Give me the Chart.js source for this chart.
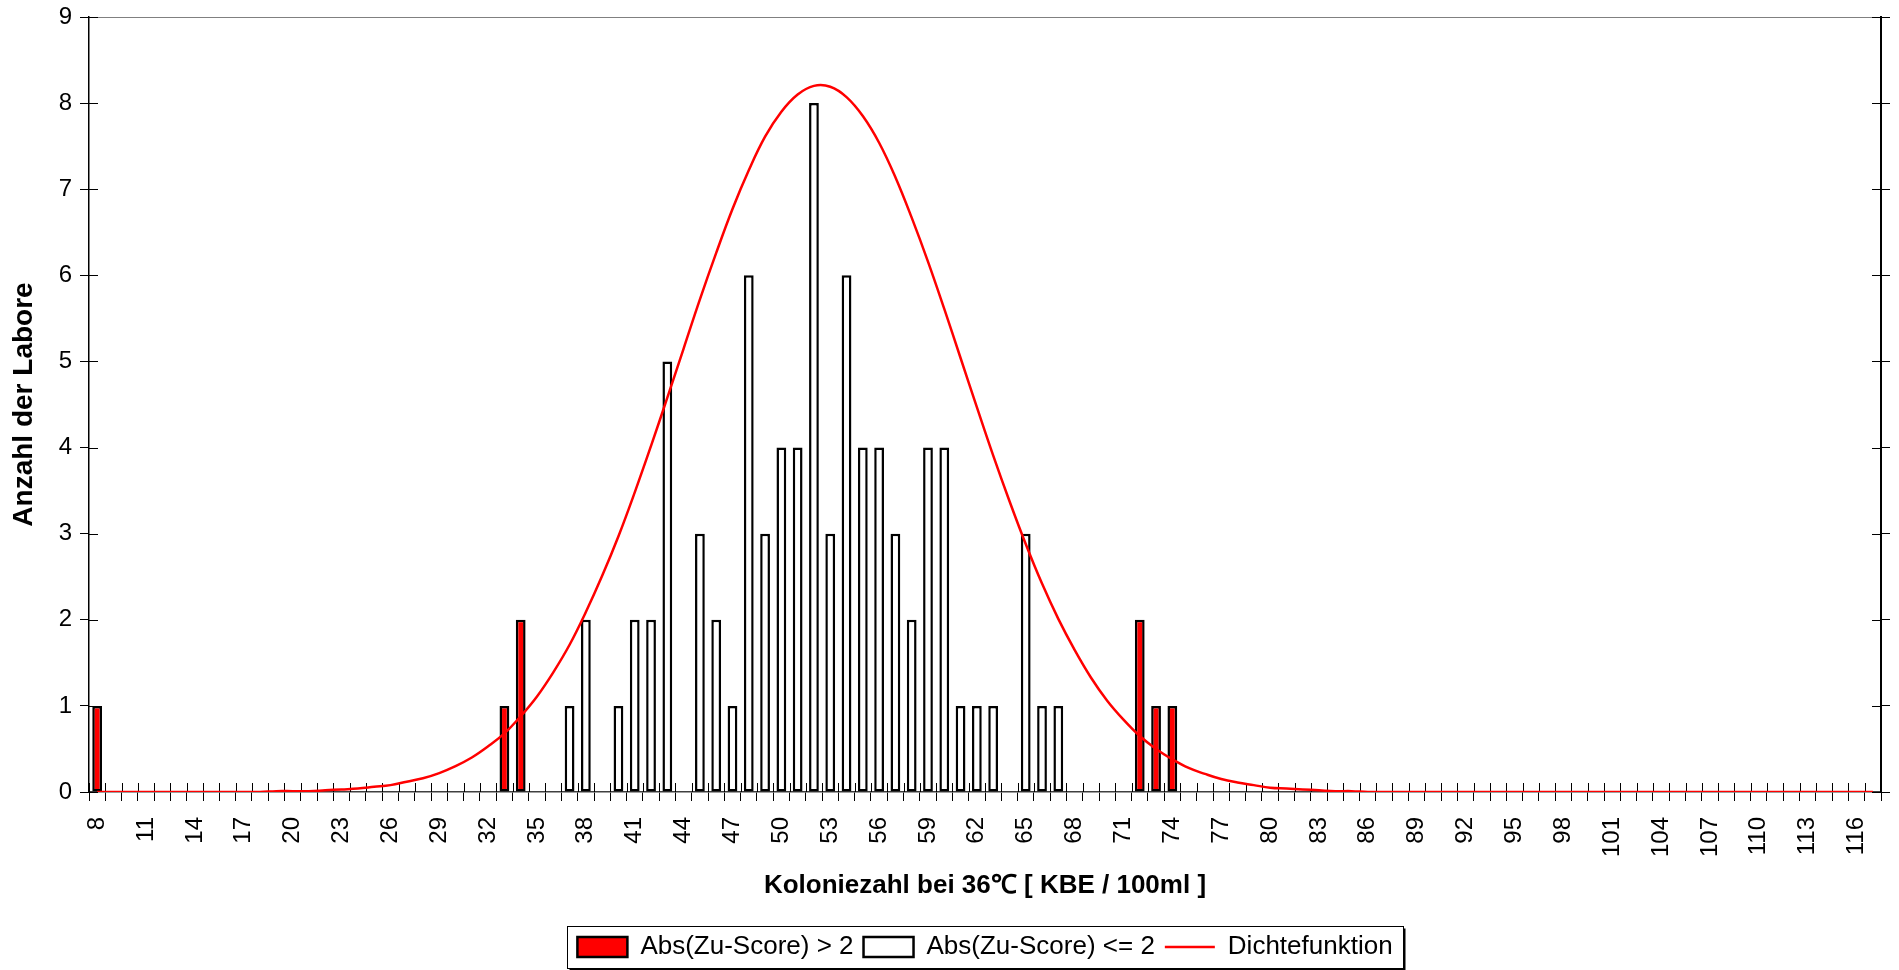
<!DOCTYPE html>
<html>
<head>
<meta charset="utf-8">
<script src="https://cdn.jsdelivr.net/npm/chart.js@4.4.1/dist/chart.umd.min.js"></script>
<style>
  html, body { margin: 0; padding: 0; background: #fff; }
  #wrap { width: 1899px; height: 970px; }
</style>
</head>
<body>
<div id="wrap"><canvas id="chart" width="1899" height="970"></canvas></div>
<script>
// x categories: colony counts 8 .. 117
const categories = [
  8, 9, 10, 11, 12, 13, 14, 15, 16, 17,
  18, 19, 20, 21, 22, 23, 24, 25, 26, 27,
  28, 29, 30, 31, 32, 33, 34, 35, 36, 37,
  38, 39, 40, 41, 42, 43, 44, 45, 46, 47,
  48, 49, 50, 51, 52, 53, 54, 55, 56, 57,
  58, 59, 60, 61, 62, 63, 64, 65, 66, 67,
  68, 69, 70, 71, 72, 73, 74, 75, 76, 77,
  78, 79, 80, 81, 82, 83, 84, 85, 86, 87,
  88, 89, 90, 91, 92, 93, 94, 95, 96, 97,
  98, 99, 100, 101, 102, 103, 104, 105, 106, 107,
  108, 109, 110, 111, 112, 113, 114, 115, 116, 117,
];

// labs with |z| > 2
const outlierValues = [8, 33, 34, 72, 73, 74];
const outlierCounts = [1, 1, 2, 2, 1, 1];

// labs with |z| <= 2
const normalValues = [37, 38, 40, 41, 42, 43, 45, 46, 47, 48, 49, 50, 51, 52,
  53, 54, 55, 56, 57, 58, 59, 60, 61, 62, 63, 65, 66, 67];
const normalCounts = [1, 2, 1, 2, 2, 5, 3, 2, 1, 6, 3, 4, 4, 8,
  3, 6, 4, 4, 3, 2, 4, 4, 1, 1, 1, 3, 1, 1];

const densityValues = [
  0, 0, 0, 0, 0, 0, 0, 0, 0, 0,
  0, 0.01, 0.01, 0.01, 0.02, 0.03, 0.04, 0.06, 0.08, 0.12,
  0.16, 0.22, 0.30, 0.40, 0.53, 0.68, 0.88, 1.11, 1.39, 1.71,
  2.09, 2.51, 2.97, 3.48, 4.02, 4.58, 5.15, 5.72, 6.26, 6.77,
  7.22, 7.61, 7.90, 8.10, 8.20, 8.19, 8.07, 7.85, 7.54, 7.14,
  6.67, 6.16, 5.61, 5.04, 4.47, 3.91, 3.38, 2.88, 2.42, 2.01,
  1.65, 1.33, 1.06, 0.84, 0.65, 0.50, 0.38, 0.28, 0.21, 0.15,
  0.11, 0.08, 0.05, 0.04, 0.03, 0.02, 0.01, 0.01, 0, 0,
  0, 0, 0, 0, 0, 0, 0, 0, 0, 0,
  0, 0, 0, 0, 0, 0, 0, 0, 0, 0,
  0, 0, 0, 0, 0, 0, 0, 0, 0, 0,
];

const X_TITLE = "Koloniezahl bei 36℃ [ KBE / 100ml ]";
const Y_TITLE = "Anzahl der Labore";

function countsFor(values, counts) {
  return categories.map((c) => {
    const i = values.indexOf(c);
    return i === -1 ? null : counts[i];
  });
}

Chart.defaults.font.family = '"Liberation Sans", Arial, sans-serif';
Chart.defaults.color = "#000";

// plot frame: grey top border, inner half of the crossing tick marks
const plotFrame = {
  id: "plotFrame",
  beforeDatasetsDraw(chart) {
    const { ctx, chartArea: a, scales } = chart;
    const x = scales.x, y = scales.y;
    ctx.save();
    ctx.strokeStyle = "#808080";
    ctx.lineWidth = 1;
    ctx.beginPath();
    ctx.moveTo(a.left, a.top + 0.5);
    ctx.lineTo(a.right, a.top + 0.5);
    ctx.stroke();

    ctx.strokeStyle = "#000";
    ctx.beginPath();
    const step = x.getPixelForValue(1) - x.getPixelForValue(0);
    for (let i = 0; i <= categories.length; i++) {
      const px = Math.round(x.getPixelForValue(i) - step / 2) + 0.5;
      ctx.moveTo(px, a.bottom);
      ctx.lineTo(px, a.bottom - 9);
    }
    y.ticks.forEach((t) => {
      const py = Math.round(y.getPixelForValue(t.value)) + 0.5;
      ctx.moveTo(a.left, py);
      ctx.lineTo(a.left + 9, py);
      ctx.moveTo(a.right - 9, py);
      ctx.lineTo(a.right, py);
    });
    ctx.stroke();
    ctx.restore();
  },
  afterDraw(chart) {
    // frame around the legend
    const boxes = chart.legend.legendHitBoxes;
    if (!boxes || !boxes.length) return;
    const first = boxes[0], last = boxes[boxes.length - 1];
    const left = Math.round(first.left - 10) + 0.5;
    const right = Math.round(last.left + last.width + 10) + 0.5;
    const top = Math.round(first.top - 8) + 0.5;
    const bottom = Math.round(first.top + first.height + 8) + 0.5;
    const ctx = chart.ctx;
    ctx.save();
    ctx.strokeStyle = "#000";
    ctx.lineWidth = 1;
    ctx.strokeRect(left, top, right - left, bottom - top);
    ctx.lineWidth = 2;
    ctx.beginPath();
    ctx.moveTo(left + 2, bottom + 1);
    ctx.lineTo(right + 1, bottom + 1);
    ctx.lineTo(right + 1, top + 2);
    ctx.stroke();
    ctx.restore();
  },
};

new Chart(document.getElementById("chart"), {
  type: "bar",
  plugins: [plotFrame],
  data: {
    labels: categories.map(String),
    datasets: [
      {
        label: "Abs(Zu-Score) > 2",
        data: countsFor(outlierValues, outlierCounts),
        backgroundColor: "#ff0000",
        borderColor: "#000",
        borderWidth: 2.5,
        borderSkipped: false,
        grouped: false,
        barPercentage: 0.6,
        categoryPercentage: 1,
        pointStyle: "rect",
        order: 1,
      },
      {
        label: "Abs(Zu-Score) <= 2",
        data: countsFor(normalValues, normalCounts),
        backgroundColor: "#fff",
        borderColor: "#000",
        borderWidth: 2.5,
        borderSkipped: false,
        grouped: false,
        barPercentage: 0.6,
        categoryPercentage: 1,
        pointStyle: "rect",
        order: 1,
      },
      {
        type: "line",
        label: "Dichtefunktion",
        data: densityValues,
        borderColor: "#ff0000",
        backgroundColor: "#ff0000",
        borderWidth: 2.5,
        pointRadius: 0,
        pointStyle: "line",
        pointBorderColor: "#ff0000",
        pointBorderWidth: 2.5,
        tension: 0.4,
        fill: false,
        order: 0,
      },
    ],
  },
  options: {
    responsive: false,
    animation: false,
    layout: {
      padding: { top: 17, bottom: 0, left: 0, right: 0 },
    },
    scales: {
      x: {
        offset: true,
        grid: {
          offset: true,
          drawOnChartArea: false,
          tickLength: 9,
          color: "#000",
        },
        border: { color: "#404040", width: 1.5 },
        ticks: {
          autoSkip: false,
          minRotation: 90,
          maxRotation: 90,
          padding: 16,
          font: { size: 24 },
          callback: function (value, index) {
            return index % 3 === 0 ? this.getLabelForValue(value) : "";
          },
        },
        title: {
          display: true,
          text: X_TITLE,
          font: { size: 26, weight: "bold" },
          padding: { top: 4, bottom: 23 },
        },
        afterFit(scale) {
          scale.height = 132;
          scale.paddingLeft = 0;
          scale.paddingRight = 0;
        },
      },
      y: {
        min: 0,
        max: 9,
        grid: { drawOnChartArea: false, tickLength: 9, color: "#000" },
        border: { color: "#000", width: 1.5 },
        ticks: { stepSize: 1, padding: 8, font: { size: 24 } },
        title: {
          display: true,
          text: Y_TITLE,
          font: { size: 28, weight: "bold" },
          padding: { top: 7, bottom: 0 },
        },
        afterFit(scale) {
          scale.width = 89;
          scale.paddingTop = 0;
          scale.paddingBottom = 0;
        },
      },
      y2: {
        position: "right",
        min: 0,
        max: 9,
        grid: { drawOnChartArea: false, tickLength: 9, color: "#000" },
        border: { color: "#000", width: 2 },
        ticks: { display: false, stepSize: 1 },
        afterFit(scale) {
          scale.width = 18;
          scale.paddingTop = 0;
          scale.paddingBottom = 0;
        },
      },
    },
    plugins: {
      tooltip: { enabled: false },
      legend: {
        position: "bottom",
        fullSize: false,
        labels: {
          usePointStyle: true,
          pointStyleWidth: 50,
          boxHeight: 20,
          padding: 10,
          color: "#000",
          font: { size: 26 },
          sort: (a, b) => a.datasetIndex - b.datasetIndex,
        },
      },
    },
  },
});
</script>
</body>
</html>
